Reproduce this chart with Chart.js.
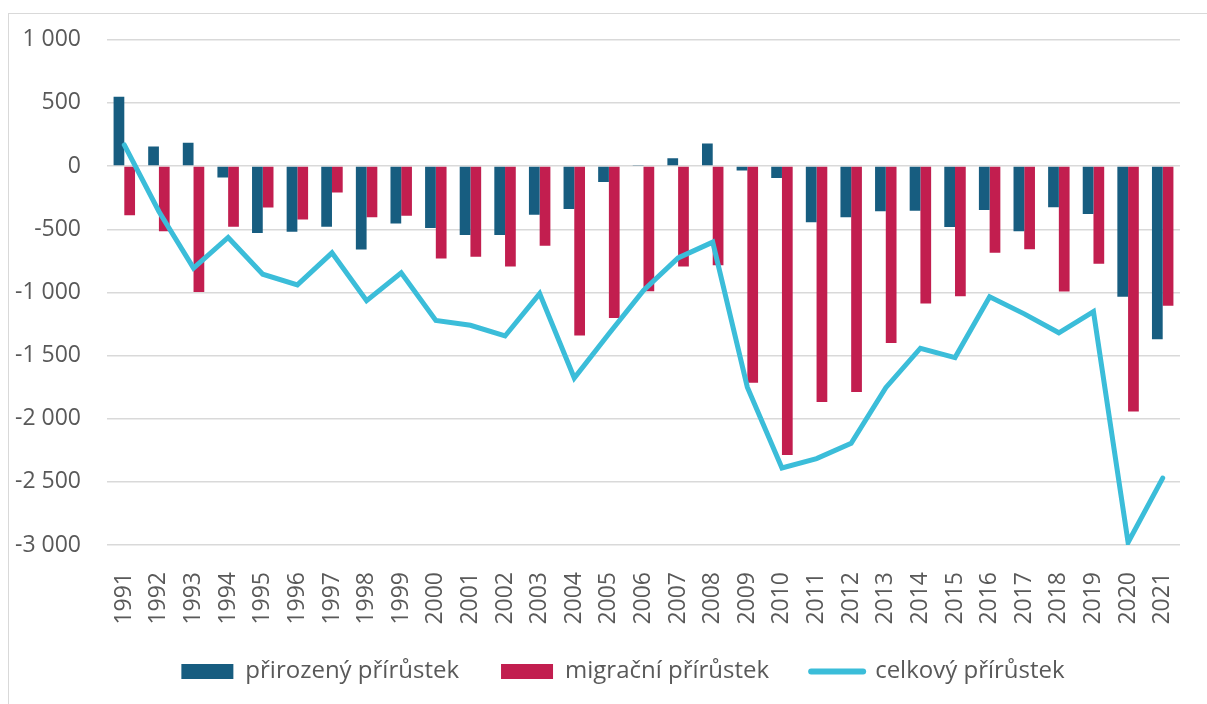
<!DOCTYPE html>
<html>
<head>
<meta charset="utf-8">
<script src="https://cdn.jsdelivr.net/npm/chart.js@4.4.1/dist/chart.umd.min.js"></script>
<style>
  html, body { margin: 0; padding: 0; background: #ffffff; }
  #wrap { position: relative; width: 1207px; height: 704px; overflow: hidden; }
  #frame { position: absolute; left: 8px; top: 13px; width: 1300px; height: 800px;
           border-left: 1.5px solid #d9d9d9; border-top: 1.5px solid #d9d9d9; }
  #c { position: absolute; left: 0; top: 0; }
</style>
</head>
<body>
<div id="wrap">
  <div id="frame"></div>
  <canvas id="c" width="1207" height="704"></canvas>
</div>
<script>
const years = ['1991','1992','1993','1994','1995','1996','1997','1998','1999','2000',
  '2001','2002','2003','2004','2005','2006','2007','2008','2009','2010',
  '2011','2012','2013','2014','2015','2016','2017','2018','2019','2020','2021'];

const natural = [550, 155, 185, -90, -530, -520, -480, -660, -455, -490,
  -545, -545, -385, -340, -125, 5, 63, 178, -35, -95,
  -445, -405, -358, -353, -482, -348, -516, -325, -380, -1035, -1370];

const migration = [-390, -515, -997, -480, -328, -423, -210, -404, -394, -732,
  -717, -795, -630, -1341, -1202, -990, -795, -785, -1715, -2287,
  -1868, -1789, -1400, -1088, -1030, -687, -658, -992, -774, -1943, -1105];

const total = [168, -359, -808, -565, -856, -940, -687, -1065, -845, -1222,
  -1260, -1345, -1010, -1678, -1328, -985, -727, -602, -1750, -2390,
  -2316, -2195, -1754, -1442, -1516, -1035, -1170, -1320, -1152, -2980, -2470];

const yTicks = [1000, 500, 0, -500, -1000, -1500, -2000, -2500, -3000];

const seriesNames = ['přirozený přírůstek', 'migrační přírůstek', 'celkový přírůstek'];

const FONT = "'Open Sans', 'Noto Sans', sans-serif";
const TEXT = '#595959';
const LEG_PAD = 42;
const LEG_SHIFT = 33;
const LEG_FONT = 24;
const LEG_CENTER_Y = 671.5;

function fmt(v) {
  const s = Math.abs(v).toString().replace(/\B(?=(\d{3})+(?!\d))/g, '\u00a0');
  return (v < 0 ? '-' : '') + s;
}

const legendShift = {
  id: 'legendShift',
  afterLayout(chart) {
    const lg = chart.legend;
    if (lg) {
      lg.left += LEG_SHIFT;
      lg.right += LEG_SHIFT;
      const h = lg.height;
      lg.top = LEG_CENTER_Y - LEG_FONT / 2 - LEG_PAD;
      lg.bottom = lg.top + h;
    }
  }
};

new Chart(document.getElementById('c'), {
  data: {
    labels: years,
    datasets: [
      {
        type: 'line',
        label: seriesNames[2],
        data: total,
        borderColor: '#3bbdd9',
        backgroundColor: '#3bbdd9',
        borderWidth: 5,
        pointRadius: 0,
        tension: 0,
        borderCapStyle: 'round',
        borderJoinStyle: 'miter',
        order: 0
      },
      {
        type: 'bar',
        label: seriesNames[0],
        data: natural,
        backgroundColor: '#175d80',
        borderWidth: 0,
        categoryPercentage: 0.62,
        barPercentage: 1.0,
        order: 1
      },
      {
        type: 'bar',
        label: seriesNames[1],
        data: migration,
        backgroundColor: '#c21e4f',
        borderWidth: 0,
        categoryPercentage: 0.62,
        barPercentage: 1.0,
        order: 1
      }
    ]
  },
  options: {
    responsive: false,
    animation: false,
    layout: { padding: { top: 37, right: 27, bottom: 0, left: 0 } },
    scales: {
      x: {
        grid: { display: false, drawTicks: false },
        border: { display: false },
        ticks: {
          minRotation: 90, maxRotation: 90, autoSkip: false,
          padding: 27, color: TEXT, font: { family: FONT, size: 23 }
        },
        afterFit(scale) {
          scale.height = 704 - (LEG_FONT + 10 + LEG_PAD) - 545;
          scale.paddingLeft = 0;
          scale.paddingRight = 0;
        }
      },
      y: {
        min: -3000, max: 1000,
        afterBuildTicks(scale) { scale.ticks = yTicks.map(v => ({ value: v })); },
        grid: { color: '#d9d9d9', lineWidth: 1.5, drawTicks: false },
        border: { display: false },
        ticks: {
          padding: 26, color: TEXT, font: { family: FONT, size: 23 },
          callback: (v) => fmt(v)
        },
        afterFit(scale) { scale.width = 107; }
      }
    },
    plugins: {
      tooltip: { enabled: false },
      legend: {
        position: 'bottom',
        labels: {
          usePointStyle: true,
          pointStyleWidth: 52,
          boxHeight: 15,
          padding: LEG_PAD,
          color: TEXT,
          font: { family: FONT, size: LEG_FONT },
          generateLabels(chart) {
            const items = Chart.defaults.plugins.legend.labels.generateLabels(chart);
            items.forEach(it => {
              const ds = chart.data.datasets[it.datasetIndex];
              if (ds.type === 'line') {
                it.pointStyle = 'line';
                it.lineWidth = 6;
                it.lineCap = 'round';
                it.strokeStyle = ds.borderColor;
              } else {
                it.pointStyle = 'rect';
                it.lineWidth = 0;
              }
            });
            const order = [1, 2, 0];
            return order.map(i => items.find(it => it.datasetIndex === i));
          }
        }
      }
    }
  },
  plugins: [legendShift]
});
</script>
</body>
</html>
